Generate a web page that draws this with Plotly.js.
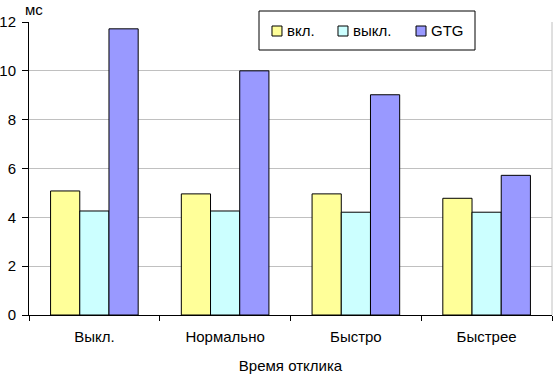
<!DOCTYPE html>
<html><head><meta charset="utf-8">
<script src="https://cdn.plot.ly/plotly-3.0.1.min.js"></script>
<style>body{margin:0}#c{width:553px;height:374px}</style>
</head><body><div id="c"></div>
<script>
const categories = ["Выкл.", "Нормально", "Быстро", "Быстрее"];
const seriesNames = ["вкл.", "выкл.", "GTG"];
const vkl = [5.08, 4.96, 4.96, 4.78];
const vykl = [4.26, 4.26, 4.21, 4.21];
const gtg = [11.72, 10.0, 9.02, 5.72];
const yTicks = [0, 2, 4, 6, 8, 10, 12];
const colors = ["#FFFF99", "#CCFFFF", "#9999FF"];
const font = "Liberation Sans, Arial, sans-serif";

const traces = [vkl, vykl, gtg].map((v, i) => ({
  type: "bar", x: categories, y: v, name: seriesNames[i],
  marker: {color: colors[i], line: {color: "#000", width: 1}}
}));

// custom legend (Excel style: small square, text right next to it)
const legSq = [[0.4646, 0.4837], [0.5908, 0.6099], [0.7400, 0.7591]];
const legTx = [0.4895, 0.6157, 0.7648];
const shapes = [
  {type: "line", xref: "paper", yref: "paper", x0: 1, x1: 1, y0: 0, y1: 1,
    line: {color: "#C0C0C0", width: 1}},
  {type: "rect", xref: "paper", yref: "paper", x0: 0.4398, x1: 0.8528, y0: 0.9044, y1: 1.0375,
    fillcolor: "#fff", line: {color: "#000", width: 1}, layer: "above"}
];
const annotations = [{text: "мс", xref: "paper", yref: "paper", x: -0.0115, y: 1.041,
  xanchor: "left", yanchor: "middle", showarrow: false, font: {size: 15}}];
seriesNames.forEach((n, i) => {
  shapes.push({type: "rect", xref: "paper", yref: "paper", x0: legSq[i][0], x1: legSq[i][1],
    y0: 0.9522, y1: 0.9863, fillcolor: colors[i], line: {color: "#000", width: 1}, layer: "above"});
  annotations.push({text: n, xref: "paper", yref: "paper", x: legTx[i], y: 0.972,
    xanchor: "left", yanchor: "middle", showarrow: false, font: {size: 15}});
});

const layout = {
  width: 553, height: 374,
  margin: {l: 29, r: 1, t: 22, b: 59},
  paper_bgcolor: "#fff", plot_bgcolor: "#fff",
  font: {family: font, size: 15, color: "#000"},
  barmode: "group", bargap: 0.33, bargroupgap: 0,
  showlegend: false,
  xaxis: {showline: true, linecolor: "#000", linewidth: 1, ticks: "outside",
    tickson: "boundaries", ticklen: 5, tickcolor: "#000", ticklabelstandoff: 8,
    title: {text: "Время отклика", font: {size: 15}, standoff: 16},
    automargin: false, showgrid: false, fixedrange: true},
  yaxis: {range: [0, 12], tickvals: yTicks, ticks: "outside", ticklen: 6,
    tickcolor: "#000", showline: true, linecolor: "#000", linewidth: 1, ticklabelstandoff: 3,
    gridcolor: "#C0C0C0", gridwidth: 1, zeroline: false, fixedrange: true, automargin: false},
  shapes: shapes,
  annotations: annotations
};
Plotly.newPlot("c", traces, layout, {displayModeBar: false, staticPlot: true});
</script></body></html>
